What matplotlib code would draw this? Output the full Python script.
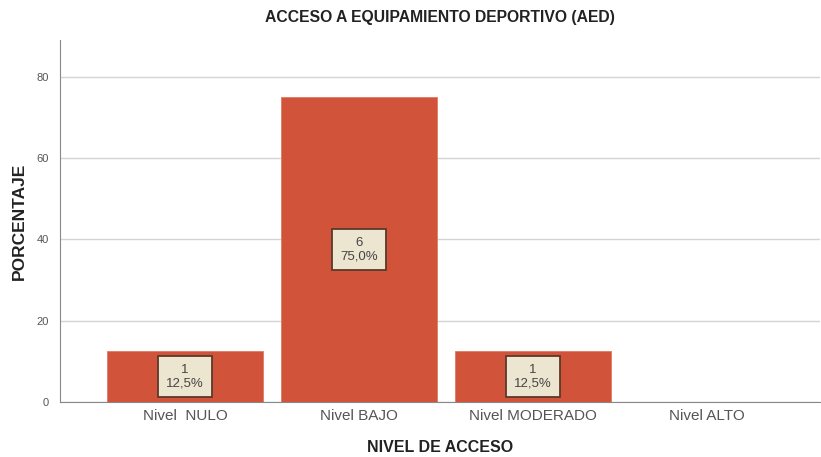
import matplotlib.pyplot as plt

plt.rcParams['font.family'] = ['Liberation Sans', 'DejaVu Sans']

categorias = ['Nivel  NULO', 'Nivel BAJO', 'Nivel MODERADO', 'Nivel ALTO']
frecuencias = [1, 6, 1, 0]
porcentajes = [12.5, 75.0, 12.5, 0.0]

fig = plt.figure(figsize=(8.21, 4.57), dpi=100)
ax = fig.add_axes([0.073, 0.12, 0.926, 0.7925])

x = list(range(len(categorias)))
ax.bar(x, porcentajes, width=0.895, color='#d0533a', edgecolor='#e07a60', linewidth=0.6, zorder=3)

# etiquetas con frecuencia y porcentaje en el centro de cada barra
for xi, n, p in zip(x, frecuencias, porcentajes):
    if n == 0:
        continue
    txt = '%d\n%s%%' % (n, ('%.1f' % p).replace('.', ','))
    ax.text(xi, p / 2, txt, ha='center', va='center', fontsize=9.5, color='#444444',
            linespacing=1.1, zorder=4,
            bbox=dict(boxstyle='square,pad=0.6', facecolor='#ece6d1', edgecolor='#5a3a2a', linewidth=1.3))

ax.set_xlim(-0.72, 3.65)
ax.set_ylim(0, 89)
ax.set_yticks([0, 20, 40, 60, 80])
ax.set_xticks(x)
ax.set_xticklabels(categorias, fontsize=11, color='#555555')
ax.tick_params(axis='y', labelsize=8, colors='#555555', length=0, pad=8)
ax.tick_params(axis='x', length=0, pad=5)
ax.grid(axis='y', color='#d4d4d4', linewidth=1.0, zorder=0)

for s in ['top', 'right']:
    ax.spines[s].set_visible(False)
ax.spines['left'].set_color('#888888')
ax.spines['bottom'].set_color('#888888')

ax.set_title('ACCESO A EQUIPAMIENTO DEPORTIVO (AED)', fontsize=11.3, fontweight='bold', color='#222222', pad=13)
ax.set_xlabel('NIVEL DE ACCESO', fontsize=11.5, fontweight='bold', color='#222222', labelpad=12)
ax.set_ylabel('PORCENTAJE', fontsize=12.5, fontweight='bold', color='#222222', labelpad=7)

fig.savefig('out.png', dpi=100)
